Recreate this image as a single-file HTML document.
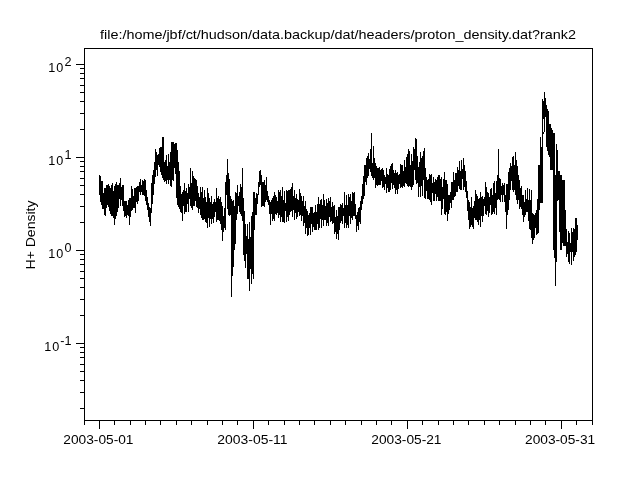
<!DOCTYPE html>
<html><head><meta charset="utf-8"><style>
*{margin:0;padding:0}
html,body{width:640px;height:480px;background:#fff;overflow:hidden}
svg{position:absolute;left:0;top:0;will-change:transform}
</style></head><body>
<svg width="640" height="480" viewBox="0 0 640 480" shape-rendering="crispEdges">
<path d="M84.5 48.5H592.5V420.5H84.5Z" fill="none" stroke="#000" stroke-width="1"/><path d="M84.5 421v4 M99.5 421v8 M114.5 421v4 M130.5 421v4 M145.5 421v4 M160.5 421v4 M176.5 421v4 M191.5 421v4 M207.5 421v4 M222.5 421v4 M237.5 421v4 M253.5 421v8 M268.5 421v4 M284.5 421v4 M299.5 421v4 M314.5 421v4 M330.5 421v4 M345.5 421v4 M361.5 421v4 M376.5 421v4 M391.5 421v4 M407.5 421v8 M422.5 421v4 M438.5 421v4 M453.5 421v4 M468.5 421v4 M484.5 421v4 M499.5 421v4 M515.5 421v4 M530.5 421v4 M545.5 421v4 M561.5 421v8 M576.5 421v4 M592.5 421v4 M76 64.5h8 M76 157.5h8 M76 250.5h8 M76 343.5h8 M80 129.5h4 M80 113.5h4 M80 101.5h4 M80 92.5h4 M80 85.5h4 M80 78.5h4 M80 73.5h4 M80 68.5h4 M80 222.5h4 M80 206.5h4 M80 194.5h4 M80 185.5h4 M80 178.5h4 M80 171.5h4 M80 166.5h4 M80 161.5h4 M80 315.5h4 M80 299.5h4 M80 287.5h4 M80 278.5h4 M80 271.5h4 M80 264.5h4 M80 259.5h4 M80 254.5h4 M80 408.5h4 M80 392.5h4 M80 380.5h4 M80 371.5h4 M80 364.5h4 M80 357.5h4 M80 352.5h4 M80 347.5h4" stroke="#000" stroke-width="1" fill="none"/><path d="M99.5 175V195M100.5 176V202M101.5 181V205M102.5 181V209M103.5 193V209M104.5 188V215M105.5 188V216M106.5 185V208M107.5 185V205M108.5 184V207M109.5 186V211M110.5 188V214M111.5 185V216M112.5 183V216M113.5 191V218M114.5 186V225M115.5 184V219M116.5 182V216M117.5 185V212M118.5 185V208M119.5 183V199M120.5 178V206M121.5 187V200M122.5 185V206M123.5 185V211M124.5 201V217M125.5 201V216M126.5 201V218M127.5 205V215M128.5 200V216M129.5 198V225M130.5 198V217M131.5 186V211M132.5 189V210M133.5 196V208M134.5 188V208M135.5 188V213M136.5 187V202M137.5 186V204M138.5 186V201M139.5 182V192M140.5 179V195M141.5 185V192M142.5 180V195M143.5 181V195M144.5 179V196M145.5 180V201M146.5 190V205M147.5 197V210M148.5 203V217M149.5 207V222M150.5 208V226M151.5 183V213M152.5 175V204M153.5 170V195M154.5 162V184M155.5 149V177M156.5 152V170M157.5 155V176M158.5 154V165M159.5 148V167M160.5 147V172M161.5 147V175M162.5 137V178M163.5 137V180M164.5 162V182M165.5 160V181M166.5 155V184M167.5 166V180M168.5 154V184M169.5 162V180M170.5 152V186M171.5 142V187M172.5 142V180M173.5 142V181M174.5 144V168M175.5 143V174M176.5 143V198M177.5 150V205M178.5 162V207M179.5 171V209M180.5 186V212M181.5 194V213M182.5 192V221M183.5 190V206M184.5 183V214M185.5 191V212M186.5 188V212M187.5 193V204M188.5 184V212M189.5 187V199M190.5 168V206M191.5 183V208M192.5 171V210M193.5 176V206M194.5 178V206M195.5 179V201M196.5 180V207M197.5 186V208M198.5 193V213M199.5 197V209M200.5 187V215M201.5 192V218M202.5 187V220M203.5 198V220M204.5 190V219M205.5 197V222M206.5 202V223M207.5 188V228M208.5 193V218M209.5 198V227M210.5 202V219M211.5 196V224M212.5 204V219M213.5 202V223M214.5 199V217M215.5 202V212M216.5 188V222M217.5 198V220M218.5 196V220M219.5 199V221M220.5 197V224M221.5 202V230M222.5 206V241M223.5 216V232M224.5 208V228M225.5 182V230M226.5 175V195M227.5 159V209M228.5 173V215M229.5 179V216M230.5 196V215M231.5 199V297M232.5 201V276M233.5 200V267M234.5 206V250M235.5 192V244M236.5 193V220M237.5 185V214M238.5 196V206M239.5 192V212M240.5 184V214M241.5 187V216M242.5 168V221M243.5 198V255M244.5 211V261M245.5 224V268M246.5 236V254M247.5 224V279M248.5 239V279M249.5 222V291M250.5 237V269M251.5 216V284M252.5 212V274M253.5 192V279M254.5 192V230M255.5 198V215M256.5 193V215M257.5 194V204M258.5 182V195M259.5 171V187M260.5 170V185M261.5 175V207M262.5 182V206M263.5 182V206M264.5 180V207M265.5 185V202M266.5 177V200M267.5 191V202M268.5 196V205M269.5 200V214M270.5 202V225M271.5 200V214M272.5 198V221M273.5 196V219M274.5 192V221M275.5 195V214M276.5 197V215M277.5 201V213M278.5 190V218M279.5 192V215M280.5 190V222M281.5 196V217M282.5 187V222M283.5 200V222M284.5 191V223M285.5 203V211M286.5 190V222M287.5 191V217M288.5 190V221M289.5 190V215M290.5 189V212M291.5 187V211M292.5 183V217M293.5 196V210M294.5 190V220M295.5 198V213M296.5 194V219M297.5 199V217M298.5 200V212M299.5 189V216M300.5 193V215M301.5 196V221M302.5 201V216M303.5 196V226M304.5 206V223M305.5 201V234M306.5 209V228M307.5 211V236M308.5 215V235M309.5 213V228M310.5 207V235M311.5 207V224M312.5 207V232M313.5 213V227M314.5 212V230M315.5 205V230M316.5 212V230M317.5 204V224M318.5 197V230M319.5 204V228M320.5 200V219M321.5 199V228M322.5 205V220M323.5 194V226M324.5 200V220M325.5 206V220M326.5 199V226M327.5 203V223M328.5 198V226M329.5 201V217M330.5 197V222M331.5 207V221M332.5 202V224M333.5 206V223M334.5 205V234M335.5 217V232M336.5 210V239M337.5 216V234M338.5 207V240M339.5 207V230M340.5 204V223M341.5 205V221M342.5 203V224M343.5 208V216M344.5 192V228M345.5 205V223M346.5 195V228M347.5 205V225M348.5 194V228M349.5 197V216M350.5 194V224M351.5 201V218M352.5 192V220M353.5 193V216M354.5 192V216M355.5 204V219M356.5 215V232M357.5 212V226M358.5 208V230M359.5 207V222M360.5 201V224M361.5 196V210M362.5 184V204M363.5 176V199M364.5 165V196M365.5 165V182M366.5 158V185M367.5 156V178M368.5 153V176M369.5 159V169M370.5 149V172M371.5 133V176M372.5 163V178M373.5 146V180M374.5 158V178M375.5 163V188M376.5 166V185M377.5 168V186M378.5 168V185M379.5 167V185M380.5 170V185M381.5 169V181M382.5 168V188M383.5 170V187M384.5 175V190M385.5 177V184M386.5 168V193M387.5 174V188M388.5 175V192M389.5 169V192M390.5 166V190M391.5 164V183M392.5 163V189M393.5 170V185M394.5 173V188M395.5 170V194M396.5 173V190M397.5 172V194M398.5 175V189M399.5 174V184M400.5 164V188M401.5 165V187M402.5 165V188M403.5 171V186M404.5 160V187M405.5 167V183M406.5 157V184M407.5 154V186M408.5 149V187M409.5 151V186M410.5 165V187M411.5 154V190M412.5 161V187M413.5 147V185M414.5 149V170M415.5 138V180M416.5 139V184M417.5 156V183M418.5 167V197M419.5 162V187M420.5 152V197M421.5 158V186M422.5 156V196M423.5 151V180M424.5 148V198M425.5 168V199M426.5 177V191M427.5 180V199M428.5 179V199M429.5 174V200M430.5 175V202M431.5 174V205M432.5 183V193M433.5 177V201M434.5 182V201M435.5 179V194M436.5 180V201M437.5 177V197M438.5 175V201M439.5 175V201M440.5 179V201M441.5 177V215M442.5 187V209M443.5 179V199M444.5 172V214M445.5 180V215M446.5 180V212M447.5 184V221M448.5 195V214M449.5 195V210M450.5 192V203M451.5 182V208M452.5 182V200M453.5 172V200M454.5 180V197M455.5 173V196M456.5 173V192M457.5 167V192M458.5 170V186M459.5 161V189M460.5 171V190M461.5 160V190M462.5 169V179M463.5 158V190M464.5 165V187M465.5 171V192M466.5 181V198M467.5 191V211M468.5 200V220M469.5 202V229M470.5 207V227M471.5 197V225M472.5 208V227M473.5 206V229M474.5 201V218M475.5 190V220M476.5 194V220M477.5 196V222M478.5 199V225M479.5 198V220M480.5 192V227M481.5 197V216M482.5 196V222M483.5 199V216M484.5 197V206M485.5 182V214M486.5 187V215M487.5 192V211M488.5 193V217M489.5 197V213M490.5 189V205M491.5 188V215M492.5 195V214M493.5 183V212M494.5 181V214M495.5 193V208M496.5 181V215M497.5 175V200M498.5 149V199M499.5 178V200M500.5 179V202M501.5 186V195M502.5 183V202M503.5 185V195M504.5 183V202M505.5 195V212M506.5 184V229M507.5 184V215M508.5 172V210M509.5 168V200M510.5 163V190M511.5 166V181M512.5 157V190M513.5 156V192M514.5 165V190M515.5 152V195M516.5 160V200M517.5 166V204M518.5 175V200M519.5 180V209M520.5 188V207M521.5 186V209M522.5 195V215M523.5 195V222M524.5 202V217M525.5 190V215M526.5 199V212M527.5 188V212M528.5 200V221M529.5 189V229M530.5 200V230M531.5 190V238M532.5 213V244M533.5 214V240M534.5 215V238M535.5 213V228M536.5 210V235M537.5 199V234M538.5 165V233M539.5 165V210M540.5 137V203M541.5 147V203M542.5 99V203M543.5 101V119M543.5 132V134M544.5 92V132M545.5 98V117M546.5 105V147M547.5 109V151M548.5 111V155M549.5 124V157M550.5 124V170M551.5 128V170M552.5 130V170M553.5 133V250M554.5 133V258M555.5 175V286M556.5 144V262M557.5 150V201M558.5 171V200M559.5 171V232M560.5 175V250M561.5 175V250M562.5 180V243M563.5 180V246M564.5 180V246M565.5 210V246M566.5 229V257M567.5 242V254M568.5 231V262M569.5 233V264M570.5 243V252M571.5 228V265M572.5 232V252M573.5 228V261M574.5 229V257M575.5 218V255M576.5 218V252M577.5 225V240" stroke="#000" stroke-width="1" fill="none" shape-rendering="crispEdges"/>
<g font-family="Liberation Sans, sans-serif" fill="#000" shape-rendering="auto">
<text x="100" y="39" font-size="13" textLength="476" lengthAdjust="spacingAndGlyphs">file:/home/jbf/ct/hudson/data.backup/dat/headers/proton_density.dat?rank2</text>
<text x="63.3" y="444" font-size="12.6" textLength="70.2" lengthAdjust="spacingAndGlyphs">2003-05-01</text>
<text x="217.3" y="444" font-size="12.6" textLength="70.2" lengthAdjust="spacingAndGlyphs">2003-05-11</text>
<text x="371.3" y="444" font-size="12.6" textLength="70.2" lengthAdjust="spacingAndGlyphs">2003-05-21</text>
<text x="525" y="444" font-size="12.6" textLength="70.2" lengthAdjust="spacingAndGlyphs">2003-05-31</text>
<text transform="translate(35 269.5) rotate(-90)" font-size="12.6" textLength="69" lengthAdjust="spacingAndGlyphs">H+ Density</text>
<text x="48.3" y="72" font-size="12.6">1</text><text x="56.2" y="72" font-size="12.6">0</text><text x="64.6" y="66" font-size="12.6">2</text>
<text x="48.3" y="165" font-size="12.6">1</text><text x="56.2" y="165" font-size="12.6">0</text><text x="64.6" y="159" font-size="12.6">1</text>
<text x="48.3" y="258" font-size="12.6">1</text><text x="56.2" y="258" font-size="12.6">0</text><text x="64.6" y="252" font-size="12.6">0</text>
<text x="44.3" y="351" font-size="12.6">1</text><text x="52.2" y="351" font-size="12.6">0</text><text x="60.2" y="345" font-size="12.6">-</text><text x="64.6" y="345" font-size="12.6">1</text>
</g>
</svg>
</body></html>
